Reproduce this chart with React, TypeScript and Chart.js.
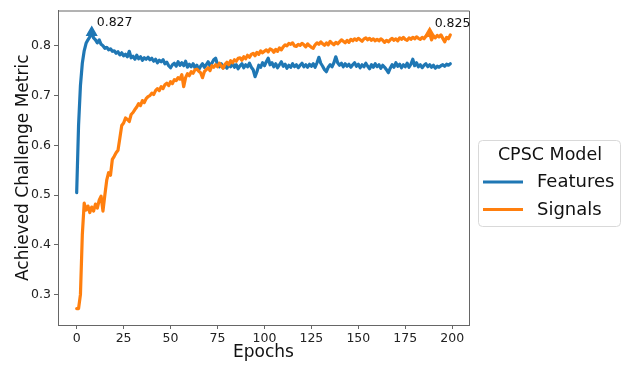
import React, { useEffect, useRef } from 'react';
import { Chart, registerables } from 'chart.js';

Chart.register(...registerables);

const EPOCHS: number[] = Array.from({ length: 200 }, (_, i) => i);

const FEATURES: number[] = [
  0.505, 0.64, 0.72, 0.765, 0.79, 0.805, 0.812, 0.818, 0.827, 0.816,
  0.812, 0.806, 0.812, 0.803, 0.8, 0.795, 0.797, 0.792, 0.794, 0.789,
  0.79, 0.785, 0.788, 0.782, 0.786, 0.78, 0.783, 0.778, 0.789, 0.776,
  0.779, 0.773, 0.781, 0.774, 0.778, 0.771, 0.776, 0.773, 0.777, 0.772,
  0.775, 0.769, 0.773, 0.766, 0.771, 0.768, 0.772, 0.764, 0.767, 0.76,
  0.756, 0.762, 0.765, 0.759, 0.768, 0.761, 0.766, 0.76, 0.769, 0.757,
  0.763, 0.758, 0.764, 0.756, 0.761, 0.752, 0.759, 0.764, 0.757, 0.762,
  0.768, 0.76, 0.765, 0.772, 0.775, 0.762, 0.758, 0.764, 0.756, 0.761,
  0.755, 0.763, 0.758, 0.766, 0.757, 0.762, 0.754, 0.76, 0.764, 0.756,
  0.762, 0.758, 0.765, 0.757, 0.752, 0.738, 0.748, 0.761, 0.757, 0.766,
  0.76, 0.768, 0.775, 0.762, 0.766, 0.758, 0.764, 0.756, 0.762, 0.768,
  0.759, 0.763, 0.755, 0.761, 0.757, 0.764, 0.758, 0.762, 0.756, 0.761,
  0.765, 0.758, 0.762, 0.757, 0.763, 0.759, 0.764, 0.757, 0.766, 0.777,
  0.765, 0.759, 0.752, 0.748, 0.757, 0.762, 0.758, 0.766, 0.778, 0.766,
  0.761, 0.765, 0.758, 0.764, 0.759, 0.763, 0.757, 0.762, 0.766, 0.759,
  0.763, 0.756, 0.762, 0.758, 0.765, 0.759, 0.754, 0.762, 0.757, 0.764,
  0.758, 0.762, 0.755, 0.761, 0.757, 0.752, 0.746, 0.755, 0.762, 0.757,
  0.766, 0.759, 0.763, 0.756, 0.762, 0.758, 0.765, 0.757, 0.763, 0.773,
  0.76, 0.766, 0.758, 0.762, 0.756, 0.761, 0.764, 0.758, 0.762, 0.757,
  0.761, 0.755, 0.759, 0.757, 0.76, 0.762, 0.759, 0.763, 0.761, 0.764,
];

const SIGNALS: number[] = [
  0.272, 0.272, 0.3, 0.42, 0.484, 0.47, 0.478, 0.465, 0.476, 0.468,
  0.482, 0.474, 0.49, 0.498, 0.468, 0.5, 0.53, 0.545, 0.54, 0.572,
  0.578, 0.585, 0.59, 0.615, 0.64, 0.645, 0.655, 0.652, 0.648, 0.662,
  0.666, 0.672, 0.677, 0.684, 0.68, 0.69, 0.686, 0.694, 0.698, 0.7,
  0.705, 0.702, 0.71, 0.714, 0.71, 0.718, 0.714, 0.722, 0.725, 0.72,
  0.728, 0.724, 0.732, 0.73, 0.736, 0.733, 0.742, 0.718, 0.736, 0.744,
  0.74, 0.748, 0.745, 0.752, 0.753, 0.749, 0.746, 0.736, 0.748, 0.752,
  0.756, 0.75, 0.76, 0.757, 0.762, 0.758, 0.765, 0.76, 0.755, 0.763,
  0.767, 0.762, 0.77, 0.766, 0.772, 0.769, 0.775, 0.776, 0.771, 0.778,
  0.774, 0.781, 0.777, 0.783, 0.785, 0.78, 0.787, 0.783, 0.79, 0.786,
  0.789, 0.792, 0.788, 0.794, 0.792, 0.787, 0.793, 0.789, 0.796, 0.792,
  0.798, 0.802, 0.8, 0.805, 0.803, 0.806, 0.8, 0.799, 0.803, 0.801,
  0.805, 0.802, 0.798, 0.804, 0.8, 0.797, 0.795, 0.802, 0.806, 0.803,
  0.808, 0.804, 0.801, 0.806, 0.802, 0.809, 0.805, 0.802, 0.807, 0.804,
  0.808, 0.812, 0.809, 0.806, 0.811, 0.807, 0.813, 0.81, 0.814, 0.811,
  0.815, 0.812, 0.809, 0.814, 0.816, 0.812, 0.815, 0.811, 0.814, 0.81,
  0.813, 0.81, 0.814, 0.811, 0.807, 0.811, 0.808, 0.812, 0.815, 0.811,
  0.814, 0.81, 0.816, 0.813, 0.817, 0.813, 0.811, 0.816, 0.813, 0.817,
  0.814, 0.818, 0.815, 0.813, 0.817, 0.814, 0.819, 0.822, 0.825, 0.812,
  0.82, 0.816, 0.821, 0.818, 0.822, 0.815, 0.808, 0.817, 0.814, 0.822,
];

const SERIES_NAMES: string[] = ['Features', 'Signals'];
const SERIES_COLORS: string[] = ['#1f77b4', '#ff7f0e'];
const X_TICKS: number[] = [0, 25, 50, 75, 100, 125, 150, 175, 200];
const Y_TICKS: number[] = [0.3, 0.4, 0.5, 0.6, 0.7, 0.8];
const LEGEND_TITLE = 'CPSC Model';
const X_TITLE = 'Epochs';
const Y_TITLE = 'Achieved Challenge Metric';

const FONT = '"DejaVu Sans", "Noto Sans", sans-serif';
const SPINE = '#666666';

const argmax = (arr: number[]) => arr.indexOf(Math.max(...arr));

export default function App() {
  const canvasRef = useRef<HTMLCanvasElement | null>(null);

  useEffect(() => {
    const canvas = canvasRef.current;
    if (!canvas) return;
    const series = [FEATURES, SIGNALS];
    const peaks = series.map(argmax);

    const extrasPlugin = {
      id: 'extras',
      afterDatasetsDraw(chart: any) {
        const { ctx, chartArea, scales } = chart;
        ctx.save();
        ctx.strokeStyle = SPINE;
        ctx.lineWidth = 1;
        ctx.beginPath();
        ctx.moveTo(chartArea.left, chartArea.top + 0.5);
        ctx.lineTo(chartArea.right + 0.5, chartArea.top + 0.5);
        ctx.lineTo(chartArea.right + 0.5, chartArea.bottom);
        ctx.stroke();
        ctx.font = `12.5px ${FONT}`;
        ctx.fillStyle = '#111';
        ctx.textAlign = 'left';
        ctx.textBaseline = 'alphabetic';
        series.forEach((vals, s) => {
          const i = peaks[s];
          const px = scales.x.getPixelForValue(EPOCHS[i]);
          const py = scales.y.getPixelForValue(vals[i]);
          ctx.fillText(vals[i].toFixed(3), px + 5, py - 6);
        });
        ctx.restore();
      },
      afterDraw(chart: any) {
        const { ctx } = chart;
        ctx.save();
        const lx = 478.5, ly = 140.5, lw = 142, lh = 86, r = 4;
        ctx.beginPath();
        ctx.moveTo(lx + r, ly);
        ctx.lineTo(lx + lw - r, ly);
        ctx.quadraticCurveTo(lx + lw, ly, lx + lw, ly + r);
        ctx.lineTo(lx + lw, ly + lh - r);
        ctx.quadraticCurveTo(lx + lw, ly + lh, lx + lw - r, ly + lh);
        ctx.lineTo(lx + r, ly + lh);
        ctx.quadraticCurveTo(lx, ly + lh, lx, ly + lh - r);
        ctx.lineTo(lx, ly + r);
        ctx.quadraticCurveTo(lx, ly, lx + r, ly);
        ctx.closePath();
        ctx.fillStyle = '#ffffff';
        ctx.fill();
        ctx.strokeStyle = '#d9d9d9';
        ctx.lineWidth = 1;
        ctx.stroke();
        ctx.fillStyle = '#111';
        ctx.font = `17.5px ${FONT}`;
        ctx.textAlign = 'center';
        ctx.textBaseline = 'middle';
        ctx.fillText(LEGEND_TITLE, 550, 155);
        ctx.font = `18px ${FONT}`;
        ctx.textAlign = 'left';
        SERIES_NAMES.forEach((name, s) => {
          const y = 182 + s * 27.5;
          ctx.strokeStyle = SERIES_COLORS[s];
          ctx.lineWidth = 3;
          ctx.beginPath();
          ctx.moveTo(483, y);
          ctx.lineTo(523, y);
          ctx.stroke();
          ctx.fillStyle = '#111';
          ctx.fillText(name, 537, y + 0.5);
        });
        ctx.restore();
      },
    };

    const chart = new Chart(canvas, {
      type: 'line',
      data: {
        datasets: series.map((vals, s) => ({
          label: SERIES_NAMES[s],
          data: EPOCHS.map((e, i) => ({ x: e, y: vals[i] })),
          borderColor: SERIES_COLORS[s],
          backgroundColor: SERIES_COLORS[s],
          borderWidth: 3.2,
          borderJoinStyle: 'round',
          borderCapStyle: 'round',
          tension: 0,
          fill: false,
          order: s === 0 ? 1 : 0,
          pointStyle: 'triangle',
          pointRadius: (ctx: any) => (ctx.dataIndex === peaks[s] ? 5.5 : 0),
          pointHoverRadius: 0,
          pointBorderWidth: 1.5,
          pointBackgroundColor: SERIES_COLORS[s],
          pointBorderColor: SERIES_COLORS[s],
        })),
      },
      options: {
        responsive: false,
        animation: false,
        devicePixelRatio: 1,
        events: [],
        layout: { padding: { left: 0, right: 152, top: 3, bottom: 0 } },
        plugins: {
          legend: { display: false },
          tooltip: { enabled: false },
        },
        scales: {
          x: {
            type: 'linear',
            min: -9.95,
            max: 208.95,
            afterBuildTicks: (scale: any) => {
              scale.ticks = X_TICKS.map((v) => ({ value: v }));
            },
            afterFit: (scale: any) => {
              scale.height = 41;
            },
            ticks: {
              font: { family: FONT, size: 12.5 },
              color: '#222',
              padding: 2,
              maxRotation: 0,
              autoSkip: false,
              callback: (v: any) => String(v),
            },
            grid: {
              display: true,
              drawOnChartArea: false,
              drawTicks: true,
              tickLength: 4,
              color: SPINE,
            },
            border: { display: true, color: SPINE, width: 1 },
            title: {
              display: true,
              text: X_TITLE,
              font: { family: FONT, size: 17 },
              color: '#111',
              padding: { top: 0, bottom: 3 },
            },
          },
          y: {
            type: 'linear',
            min: 0.239,
            max: 0.871,
            afterBuildTicks: (scale: any) => {
              scale.ticks = Y_TICKS.map((v) => ({ value: v }));
            },
            afterFit: (scale: any) => {
              scale.width = 58;
            },
            ticks: {
              font: { family: FONT, size: 12.5 },
              color: '#222',
              padding: 3,
              autoSkip: false,
              callback: (v: any) => Number(v).toFixed(1),
            },
            grid: {
              display: true,
              drawOnChartArea: false,
              drawTicks: true,
              tickLength: 4,
              color: SPINE,
            },
            border: { display: true, color: SPINE, width: 1 },
            title: {
              display: true,
              text: Y_TITLE,
              font: { family: FONT, size: 17 },
              color: '#111',
              padding: { top: 13, bottom: 0 },
            },
          },
        },
      },
      plugins: [extrasPlugin],
    } as any);

    return () => chart.destroy();
  }, []);

  return (
    <div style={{ position: 'absolute', left: 0, top: 0, width: 621, height: 366, background: '#ffffff' }}>
      <canvas ref={canvasRef} width={621} height={366} style={{ display: 'block' }} />
    </div>
  );
}
